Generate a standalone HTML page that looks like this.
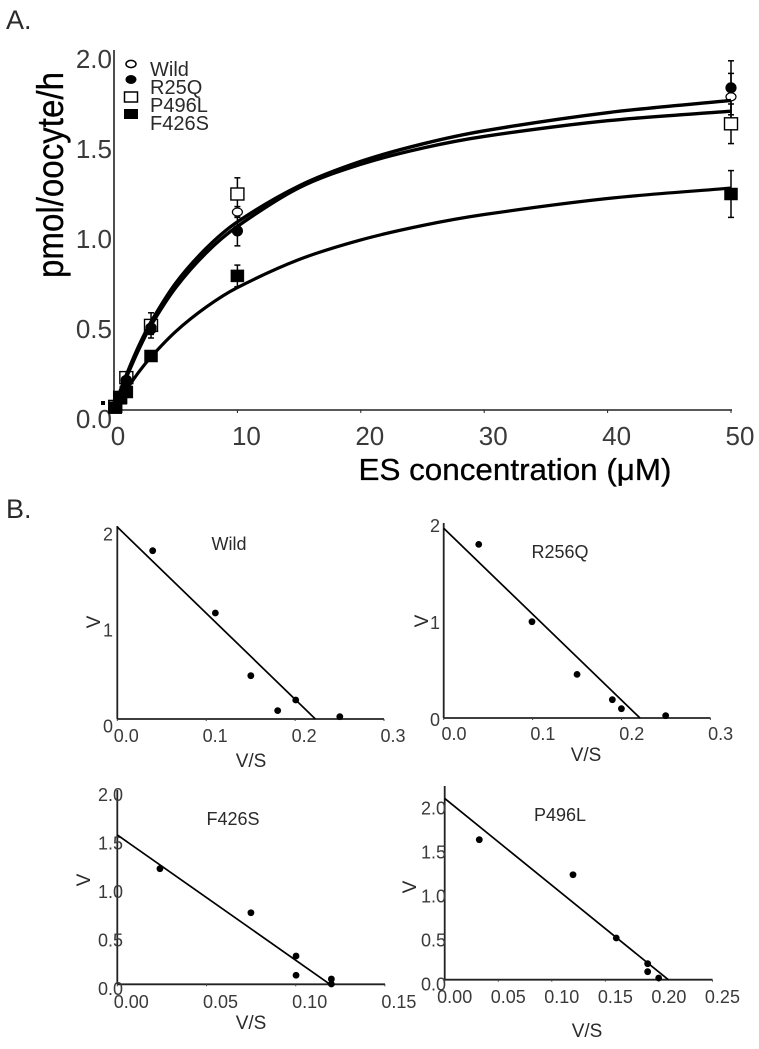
<!DOCTYPE html>
<html lang="en">
<head>
<meta charset="utf-8">
<title>ES concentration kinetics</title>
<style>
html,body{margin:0;padding:0;background:#fff;}
svg{display:block;}
text{font-family:"Liberation Sans","NanumGothic",sans-serif;fill:#2a2a2a;}
.tick{fill:#3a3a3a;}
.heavy{fill:#000;stroke:#000;stroke-width:0.3px;}
</style>
</head>
<body>
<svg id="figure" width="759" height="1049" viewBox="0 0 759 1049" xmlns="http://www.w3.org/2000/svg">
  <text x="6" y="29" font-size="27">A.</text>
  <text x="6" y="518" font-size="27">B.</text>
  <text class="heavy" transform="translate(63,175) rotate(-90)" text-anchor="middle" font-size="37" textLength="206" lengthAdjust="spacingAndGlyphs">pmol/oocyte/h</text>
  <text class="heavy" x="515" y="480" text-anchor="middle" font-size="31" textLength="313" lengthAdjust="spacingAndGlyphs">ES concentration (μM)</text>

  <g>
    <ellipse cx="131" cy="64" rx="5" ry="3.6" fill="#fff" stroke="#000" stroke-width="1.5"/>
    <ellipse cx="131" cy="79.5" rx="5.5" ry="4.5" fill="#000"/>
    <rect x="124.5" y="92" width="13" height="10" fill="#fff" stroke="#000" stroke-width="1.5"/>
    <rect x="124" y="109" width="14" height="10" fill="#000"/>
    <text x="150" y="76" font-size="20">Wild</text>
    <text x="150" y="94" font-size="20">R25Q</text>
    <text x="150" y="112" font-size="20">P496L</text>
    <text x="150" y="130" font-size="20">F426S</text>
  </g>

  <rect x="101" y="401" width="4" height="4" fill="#000"/>

  <text x="229" y="550" text-anchor="middle" font-size="18">Wild</text>
  <text x="251" y="767" text-anchor="middle" font-size="19">V/S</text>
  <text transform="translate(100,622) rotate(-90)" text-anchor="middle" font-size="19">V</text>

  <text x="560" y="558" text-anchor="middle" font-size="18">R256Q</text>
  <text x="586" y="761" text-anchor="middle" font-size="19">V/S</text>
  <text transform="translate(428,621) rotate(-90)" text-anchor="middle" font-size="19">V</text>

  <text x="233" y="825" text-anchor="middle" font-size="18">F426S</text>
  <text x="251" y="1029" text-anchor="middle" font-size="19">V/S</text>
  <text transform="translate(90,880) rotate(-90)" text-anchor="middle" font-size="19">V</text>

  <text x="560" y="821" text-anchor="middle" font-size="18">P496L</text>
  <text x="587" y="1037" text-anchor="middle" font-size="19">V/S</text>
  <text transform="translate(416,887) rotate(-90)" text-anchor="middle" font-size="19">V</text>
</svg>
<script>
// ---- Panel A data ----
var concentrations = [0.1, 0.5, 1, 3, 10, 50];
var wildValues = [0.02, 0.06, 0.17, 0.46, 1.10, 1.74];
var r25qValues = [0.02, 0.06, 0.16, 0.45, 0.995, 1.79];
var p496lValues = [0.02, 0.07, 0.18, 0.47, 1.20, 1.59];
var f426sValues = [0.013, 0.065, 0.10, 0.30, 0.745, 1.20];
var wildErrors = [0, 0, 0, 0.03, 0.03, 0.13];
var r25qErrors = [0, 0, 0, 0.03, 0.083, 0.15];
var p496lErrors = [0, 0, 0, 0.07, 0.09, 0.11];
var f426sErrors = [0, 0, 0, 0.02, 0.06, 0.13];
var curveConcentrations = [0, 0.5, 1, 2, 3, 5, 7.5, 10, 15, 20, 25, 30, 40, 50];
var curveUpper = [0, 0.105, 0.195, 0.355, 0.49, 0.705, 0.90, 1.045, 1.245, 1.381, 1.478, 1.551, 1.652, 1.72];
var curveMiddle = [0, 0.095, 0.18, 0.335, 0.47, 0.68, 0.875, 1.02, 1.235, 1.365, 1.455, 1.52, 1.607, 1.66];
var curveLower = [0, 0.058, 0.112, 0.21, 0.295, 0.436, 0.573, 0.68, 0.836, 0.945, 1.025, 1.086, 1.175, 1.233];
var mainXTicks = [0, 10, 20, 30, 40, 50];
var mainXTickLabels = ['0', '10', '20', '30', '40', '50'];
var mainYTicks = [0, 0.5, 1, 1.5, 2];
var mainYTickLabels = ['0.0', '0.5', '1.0', '1.5', '2.0'];

// ---- Panel B data ----
var wildVS = [0.0398, 0.1103, 0.1502, 0.1804, 0.2007, 0.2503];
var wildV = [1.753, 1.104, 0.451, 0.087, 0.198, 0.024];
var wildFit = [2.0, 0.2228];
var wildXTicks = [0, 0.1, 0.2, 0.3];
var wildXLabels = ['0.0', '0.1', '0.2', '0.3'];
var wildYTicks = [0, 1, 2];
var wildYLabels = ['0', '1', '2'];

var r256qVS = [0.0394, 0.0993, 0.15, 0.1897, 0.1999, 0.2497];
var r256qV = [1.79, 0.993, 0.45, 0.189, 0.096, 0.024];
var r256qFit = [1.956, 0.2208];
var r256qXTicks = [0, 0.1, 0.2, 0.3];
var r256qXLabels = ['0.0', '0.1', '0.2', '0.3'];
var r256qYTicks = [0, 1, 2];
var r256qYLabels = ['0', '1', '2'];

var f426sVS = [0.0239, 0.0749, 0.1002, 0.1002, 0.12, 0.12];
var f426sV = [1.192, 0.738, 0.292, 0.093, 0.055, 0.003];
var f426sFit = [1.54, 0.1192];
var f426sXTicks = [0, 0.05, 0.1, 0.15];
var f426sXLabels = ['0.00', '0.05', '0.10', '0.15'];
var f426sYTicks = [0, 0.5, 1, 1.5, 2];
var f426sYLabels = ['0.0', '0.5', '1.0', '1.5', '2.0'];

var p496lVS = [0.0323, 0.1198, 0.1602, 0.1895, 0.1895, 0.1998];
var p496lV = [1.591, 1.193, 0.474, 0.182, 0.091, 0.019];
var p496lFit = [2.06, 0.2088];
var p496lXTicks = [0, 0.05, 0.1, 0.15, 0.2, 0.25];
var p496lXLabels = ['0.00', '0.05', '0.10', '0.15', '0.20', '0.25'];
var p496lYTicks = [0, 0.5, 1, 1.5, 2];
var p496lYLabels = ['0.0', '0.5', '1.0', '1.5', '2.0'];

var svg = document.getElementById('figure');
var NS = 'http://www.w3.org/2000/svg';

function make(tag, name, attrs, parent) {
  var el = document.createElementNS(NS, tag);
  
  
  for (var k in attrs) { el.setAttribute(k, attrs[k]); }
  (parent || svg).appendChild(el);
  return el;
}

// ---- Panel A scales ----
function mainX(v) { return 114 + 12.34 * v; }
function mainY(v) { return 410 - 180 * v; }

var mainGroup = make('g', 'main-chart', {});
make('line', 'main-y-axis', {x1: 114, y1: 50, x2: 114, y2: 410, stroke: '#222', 'stroke-width': 1.6}, mainGroup);
make('line', 'main-x-axis', {x1: 114, y1: 410, x2: mainX(50) + 1, y2: 410, stroke: '#222', 'stroke-width': 1.6}, mainGroup);

mainXTicks.forEach(function (t, i) {
  make('line', 'main-x-tick', {x1: mainX(t), y1: 410, x2: mainX(t), y2: 413, stroke: '#222', 'stroke-width': 1}, mainGroup);
  var lab = make('text', 'main-x-tick-label', {x: mainX(t) + 9 - (i === 0 ? 5 : 0), y: 445, 'text-anchor': 'middle', 'font-size': 26, 'class': 'tick'}, mainGroup);
  lab.textContent = mainXTickLabels[i];
});
mainYTicks.forEach(function (t, i) {
  var lab = make('text', 'main-y-tick-label', {x: 112, y: mainY(t) + 18, 'text-anchor': 'end', 'font-size': 26, 'class': 'tick'}, mainGroup);
  lab.textContent = mainYTickLabels[i];
});

function errorBars(values, errors, name) {
  concentrations.forEach(function (c, i) {
    if (!errors[i]) { return; }
    var x = mainX(c), hi = mainY(values[i] + errors[i]), lo = mainY(values[i] - errors[i]);
    make('line', name + '-error-bar', {x1: x, y1: hi, x2: x, y2: lo, stroke: '#000', 'stroke-width': 1.5}, mainGroup);
    make('line', name + '-error-cap-top', {x1: x - 3, y1: hi, x2: x + 3, y2: hi, stroke: '#000', 'stroke-width': 1.5}, mainGroup);
    make('line', name + '-error-cap-bottom', {x1: x - 3, y1: lo, x2: x + 3, y2: lo, stroke: '#000', 'stroke-width': 1.5}, mainGroup);
  });
}
function squares(values, fill, name) {
  concentrations.forEach(function (c, i) {
    make('rect', name + '-point', {x: mainX(c) - 6.5, y: mainY(values[i]) - 6, width: 13, height: 12, fill: fill, stroke: '#000', 'stroke-width': fill === '#000' ? 0.5 : 1.4}, mainGroup);
  });
}
function circles(values, fill, name) {
  concentrations.forEach(function (c, i) {
    make('ellipse', name + '-point', {cx: mainX(c), cy: mainY(values[i]), rx: 5, ry: fill === '#000' ? 5 : 4, fill: fill, stroke: '#000', 'stroke-width': 1.2}, mainGroup);
  });
}
function curve(values, width, name) {
  var pts = curveConcentrations.map(function (c, i) { return [mainX(c), mainY(values[i])]; });
  var d = 'M' + pts[0][0] + ' ' + pts[0][1];
  for (var i = 0; i < pts.length - 1; i++) {
    var p0 = pts[Math.max(i - 1, 0)], p1 = pts[i], p2 = pts[i + 1], p3 = pts[Math.min(i + 2, pts.length - 1)];
    var h = p2[0] - p1[0];
    var m1 = (p2[1] - p0[1]) / (p2[0] - p0[0]);
    var m2 = (p3[1] - p1[1]) / (p3[0] - p1[0]);
    d += ' C' + (p1[0] + h / 3) + ' ' + (p1[1] + m1 * h / 3) + ' ' + (p2[0] - h / 3) + ' ' + (p2[1] - m2 * h / 3) + ' ' + p2[0] + ' ' + p2[1];
  }
  make('path', name, {d: d, fill: 'none', stroke: '#000', 'stroke-width': width}, mainGroup);
}

errorBars(p496lValues, p496lErrors, 'p496l');
errorBars(wildValues, wildErrors, 'wild');
errorBars(r25qValues, r25qErrors, 'r25q');
errorBars(f426sValues, f426sErrors, 'f426s');
squares(p496lValues, '#fff', 'p496l');
circles(wildValues, '#fff', 'wild');
circles(r25qValues, '#000', 'r25q');
squares(f426sValues, '#000', 'f426s');
curve(curveUpper, 3.4, 'fit-curve-wild');
curve(curveMiddle, 3.4, 'fit-curve-p496l');
curve(curveLower, 3.2, 'fit-curve-f426s');

// ---- Panel B ----
function scatchard(name, vs, v, fit, xTicks, xLabels, yTicks, yLabels, box) {
  var g = make('g', name + '-plot', {});
  function sx(val) { return box.x0 + box.sx * val; }
  function sy(val) { return box.y0 - box.sy * val; }
  make('line', name + '-y-axis', {x1: box.x0, y1: box.top, x2: box.x0, y2: box.y0, stroke: '#222', 'stroke-width': 1.8}, g);
  make('line', name + '-x-axis', {x1: box.x0, y1: box.y0, x2: box.right, y2: box.y0, stroke: '#222', 'stroke-width': 1.8}, g);
  xTicks.forEach(function (t, i) {
    make('line', name + '-x-tick', {x1: sx(t), y1: box.y0, x2: sx(t), y2: box.y0 + 2, stroke: '#444', 'stroke-width': 1}, g);
    var lab = make('text', name + '-x-tick-label', {x: sx(t) + box.xLabelDx, y: box.xLabelY, 'text-anchor': 'middle', 'font-size': 18, 'class': 'tick'}, g);
    lab.textContent = xLabels[i];
  });
  yTicks.forEach(function (t, i) {
    var lab = make('text', name + '-y-tick-label', {x: box.yLabelX, y: sy(t) + box.yLabelDy, 'text-anchor': 'end', 'font-size': 18, 'class': 'tick'}, g);
    lab.textContent = yLabels[i];
  });
  make('line', name + '-fit-line', {x1: sx(0), y1: sy(fit[0]), x2: sx(fit[1]), y2: sy(0), stroke: '#000', 'stroke-width': 1.7}, g);
  vs.forEach(function (val, i) {
    make('circle', name + '-point', {cx: sx(val), cy: sy(v[i]), r: 3.4, fill: '#000'}, g);
  });
}

scatchard('wild', wildVS, wildV, wildFit, wildXTicks, wildXLabels, wildYTicks, wildYLabels,
  {x0: 117.3, y0: 719, sx: 889, sy: 96, top: 526, right: 384, xLabelDx: 9, xLabelY: 742, yLabelX: 113, yLabelDy: 13.5});
scatchard('r256q', r256qVS, r256qV, r256qFit, r256qXTicks, r256qXLabels, r256qYTicks, r256qYLabels,
  {x0: 443.7, y0: 718, sx: 889, sy: 97, top: 523, right: 710.5, xLabelDx: 10.3, xLabelY: 740, yLabelX: 440, yLabelDy: 8});
scatchard('f426s', f426sVS, f426sV, f426sFit, f426sXTicks, f426sXLabels, f426sYTicks, f426sYLabels,
  {x0: 117.3, y0: 984.3, sx: 1784, sy: 97, top: 790, right: 385, xLabelDx: 14, xLabelY: 1008, yLabelX: 123, yLabelDy: 10.5});
scatchard('p496l', p496lVS, p496lV, p496lFit, p496lXTicks, p496lXLabels, p496lYTicks, p496lYLabels,
  {x0: 444.7, y0: 979.7, sx: 1071, sy: 88, top: 786, right: 712.5, xLabelDx: 10, xLabelY: 1003, yLabelX: 446, yLabelDy: 11});
</script>
</body>
</html>
